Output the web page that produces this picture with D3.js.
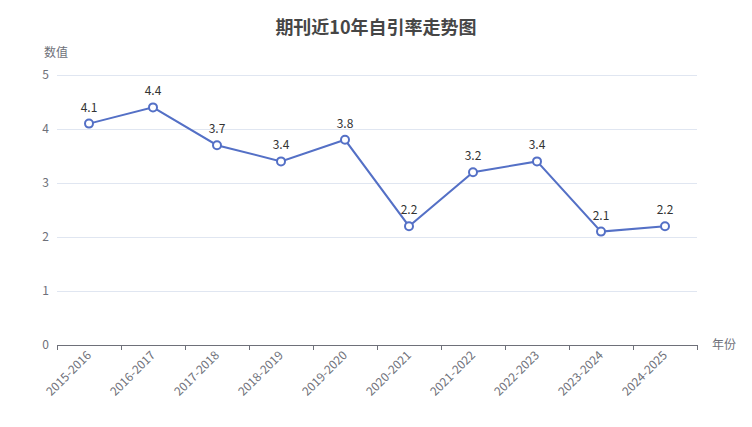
<!DOCTYPE html>
<html>
  <head>
    <meta charset="utf-8">
    <title>期刊近10年自引率走势图</title>
    <style>
      body { margin: 0; background: #fff; }
      svg { display: block; font-family: "Microsoft YaHei", "Noto Sans CJK SC", "Noto Sans", sans-serif; }
    </style>
    <script src="https://d3js.org/d3.v7.min.js"></script>
  </head>
  <body>
    <svg id="chart"></svg>
    <script>
      var years = ["2015-2016", "2016-2017", "2017-2018", "2018-2019", "2019-2020",
                   "2020-2021", "2021-2022", "2022-2023", "2023-2024", "2024-2025"];
      var rates = [4.1, 4.4, 3.7, 3.4, 3.8, 2.2, 3.2, 3.4, 2.1, 2.2];
      var yTicks = [0, 1, 2, 3, 4, 5];

      var width = 752, height = 427;
      var gLeft = 57, gRight = 697, gTop = 75, gBottom = 345;

      var svg = d3.select("#chart").attr("width", width).attr("height", height);

      var x = d3.scaleBand().domain(years).range([gLeft, gRight]);
      var y = d3.scaleLinear().domain([0, 5]).range([gBottom, gTop]);

      // title
      svg.append("text")
        .attr("x", width / 2).attr("y", 34)
        .attr("text-anchor", "middle")
        .style("font-size", "18px").style("font-weight", "bold")
        .style("fill", "#464646")
        .text("期刊近10年自引率走势图");

      // grid lines
      svg.append("g").selectAll("line")
        .data(yTicks.filter(function(d) { return d > 0; }))
        .enter().append("line")
        .attr("x1", gLeft).attr("x2", gRight)
        .attr("y1", function(d) { return y(d) + 0.5; })
        .attr("y2", function(d) { return y(d) + 0.5; })
        .attr("stroke", "#E0E6F1").attr("stroke-width", 1);

      // y labels
      svg.append("g").selectAll("text")
        .data(yTicks)
        .enter().append("text")
        .attr("x", gLeft - 8)
        .attr("y", function(d) { return y(d); })
        .attr("dy", "0.35em")
        .attr("text-anchor", "end")
        .style("font-size", "12px").style("fill", "#6E7079")
        .text(function(d) { return d; });

      svg.append("text")
        .attr("x", 56).attr("y", 57)
        .attr("text-anchor", "middle")
        .style("font-size", "12px").style("fill", "#6E7079")
        .text("数值");

      // x axis
      var xAxis = svg.append("g");
      xAxis.append("line")
        .attr("x1", gLeft).attr("x2", gRight)
        .attr("y1", gBottom + 0.5).attr("y2", gBottom + 0.5)
        .attr("stroke", "#6E7079");
      var bounds = years.map(function(d) { return x(d); }).concat([gRight]);
      xAxis.selectAll("line.tick")
        .data(bounds)
        .enter().append("line")
        .attr("class", "tick")
        .attr("x1", function(d) { return Math.round(d) + 0.5; })
        .attr("x2", function(d) { return Math.round(d) + 0.5; })
        .attr("y1", gBottom).attr("y2", gBottom + 5)
        .attr("stroke", "#6E7079");
      xAxis.selectAll("text")
        .data(years)
        .enter().append("text")
        .attr("transform", function(d) {
          return "translate(" + (x(d) + x.bandwidth() / 2) + "," + (gBottom + 8) + ") rotate(-45)";
        })
        .attr("text-anchor", "end")
        .attr("dy", "0.35em")
        .style("font-size", "12px").style("fill", "#6E7079")
        .text(function(d) { return d; });

      svg.append("text")
        .attr("x", 712).attr("y", gBottom + 4)
        .style("font-size", "12px").style("fill", "#6E7079")
        .text("年份");

      // line
      var cx = function(d, i) { return x(years[i]) + x.bandwidth() / 2; };
      var line = d3.line()
        .x(cx)
        .y(function(d) { return y(d); });

      svg.append("path")
        .datum(rates)
        .attr("d", line)
        .attr("fill", "none")
        .attr("stroke", "#5470c6")
        .attr("stroke-width", 2);

      svg.append("g").selectAll("circle")
        .data(rates)
        .enter().append("circle")
        .attr("cx", cx)
        .attr("cy", function(d) { return y(d); })
        .attr("r", 4)
        .attr("fill", "#fff")
        .attr("stroke", "#5470c6")
        .attr("stroke-width", 2);

      svg.append("g").selectAll("text")
        .data(rates)
        .enter().append("text")
        .attr("x", cx)
        .attr("y", function(d) { return y(d) - 12; })
        .attr("text-anchor", "middle")
        .style("font-size", "12px").style("fill", "#333")
        .text(function(d) { return d.toFixed(1); });
    </script>
  </body>
</html>
